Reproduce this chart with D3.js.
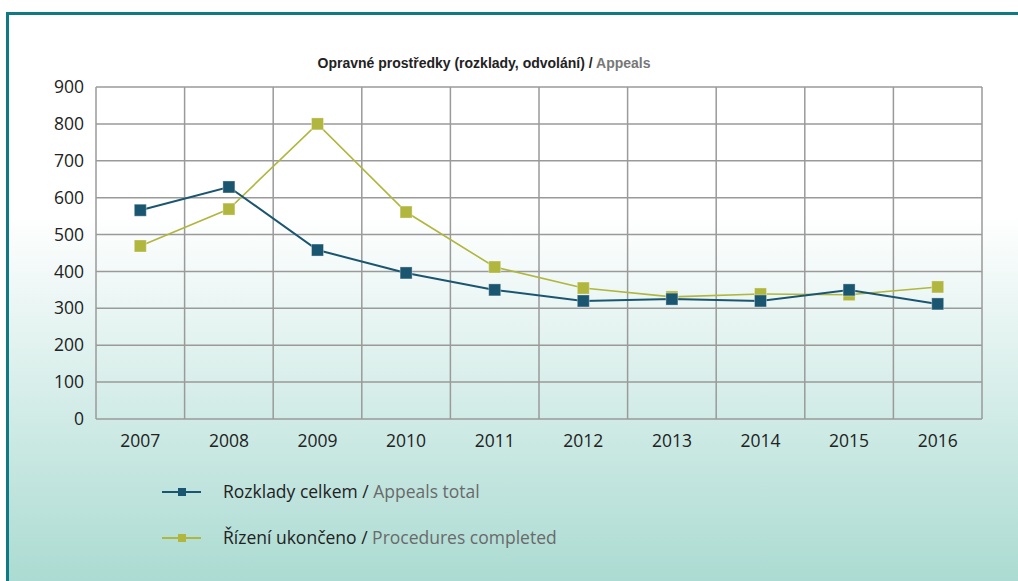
<!DOCTYPE html>
<html><head><meta charset="utf-8">
<script src="https://cdn.jsdelivr.net/npm/d3@7"></script>
<style>
html,body{margin:0;padding:0;background:#fff;}
svg{display:block;}
</style></head>
<body>
<svg id="chart" width="1018" height="581"></svg>
<script>
const years = ["2007","2008","2009","2010","2011","2012","2013","2014","2015","2016"];
const appealsTotal = [566, 629, 458, 396, 350, 320, 325, 320, 350, 312];
const proceduresCompleted = [469, 569, 800, 561, 412, 355, 331, 339, 337, 358];
const yTicks = [0,100,200,300,400,500,600,700,800,900];
const seriesNames = [
  ["Rozklady celkem / ", "Appeals total"],
  ["Řízení ukončeno / ", "Procedures completed"]
];
const seriesColors = ["#1b5670", "#b1b63e"];

(function(){
const svg = d3.select("#chart");
const W = 1018, H = 581;

const defs = svg.append("defs");
const grad = defs.append("linearGradient").attr("id","bg").attr("x1",0).attr("y1",0).attr("x2",0).attr("y2",1);
grad.append("stop").attr("offset","0%").attr("stop-color","#ffffff");
grad.append("stop").attr("offset","37%").attr("stop-color","#ffffff");
grad.append("stop").attr("offset","100%").attr("stop-color","#abdbd2");
svg.append("rect").attr("x",0).attr("y",0).attr("width",W).attr("height",H).attr("fill","url(#bg)");
svg.append("rect").attr("x",0).attr("y",0).attr("width",W).attr("height",12).attr("fill","#fff");
svg.append("rect").attr("x",0).attr("y",0).attr("width",6).attr("height",H).attr("fill","#fff");
svg.append("rect").attr("x",6).attr("y",12).attr("width",W).attr("height",3).attr("fill","#0f7984");
svg.append("rect").attr("x",6).attr("y",12).attr("width",3).attr("height",H).attr("fill","#0f7984");

const pLeft = 96, pRight = 982, pTop = 87, pBottom = 419;
const x = d3.scaleBand().domain(years).range([pLeft,pRight]);
const y = d3.scaleLinear().domain([0,900]).range([pBottom,pTop]);

const title = svg.append("text").attr("x",484).attr("y",68).attr("text-anchor","middle")
  .style("font-family","'Liberation Sans Narrow','Arial Narrow',sans-serif")
  .style("font-weight","bold").style("font-size","14px");
title.append("tspan").attr("fill","#222").text("Opravné prostředky (rozklady, odvolání) / ");
title.append("tspan").attr("fill","#777").text("Appeals");

const grid = svg.append("g");
grid.selectAll("line.h").data(yTicks).enter().append("line")
  .attr("x1",pLeft).attr("x2",pRight).attr("y1",d=>y(d)).attr("y2",d=>y(d))
  .attr("stroke","#9a9a9a").attr("stroke-width",1.5);
const edges = years.map(d=>x(d)).concat([pRight]);
grid.selectAll("line.v").data(edges).enter().append("line")
  .attr("x1",d=>d).attr("x2",d=>d).attr("y1",pTop).attr("y2",pBottom)
  .attr("stroke","#9a9a9a").attr("stroke-width",1.5);

const fontAxis = "'Open Sans','Noto Sans',sans-serif";
const yAxis = d3.axisLeft(y).tickValues(yTicks).tickSize(0).tickPadding(12);
const gy = svg.append("g").attr("transform",`translate(${pLeft},0)`).call(yAxis);
gy.select(".domain").remove();
gy.selectAll("text").style("font-family",fontAxis).style("font-size","17.5px").attr("fill","#222");

const xAxis = d3.axisBottom(x).tickSize(0).tickPadding(16);
const gx = svg.append("g").attr("transform",`translate(0,${pBottom})`).call(xAxis);
gx.select(".domain").remove();
gx.selectAll("text").style("font-family",fontAxis).style("font-size","17.5px").attr("fill","#222");

const cx = d => x(d) + x.bandwidth()/2;
const line = d3.line().x(d=>cx(d.year)).y(d=>y(d.v));
const allSeries = [appealsTotal, proceduresCompleted];
[1,0].forEach(i => {
  const data = years.map((yr,j)=>({year:yr, v:allSeries[i][j]}));
  svg.append("path").datum(data).attr("d",line).attr("fill","none")
    .attr("stroke",seriesColors[i]).attr("stroke-width", i===0 ? 2 : 1.6);
  svg.selectAll(null).data(data).enter().append("rect")
    .attr("x",d=>cx(d.year)-6).attr("y",d=>y(d.v)-6).attr("width",12).attr("height",12)
    .attr("fill",seriesColors[i]).attr("stroke","rgba(255,255,255,0.35)").attr("stroke-width",1);
});

const legY = [492, 538];
seriesNames.forEach((nm,i)=>{
  const g = svg.append("g");
  g.append("line").attr("x1",162).attr("x2",201).attr("y1",legY[i]).attr("y2",legY[i])
    .attr("stroke",seriesColors[i]).attr("stroke-width",2);
  g.append("rect").attr("x",178).attr("y",legY[i]-4).attr("width",8).attr("height",8).attr("fill",seriesColors[i]);
  const t = g.append("text").attr("x",223).attr("y",legY[i]+6)
    .style("font-family",fontAxis).style("font-size","17.5px");
  t.append("tspan").attr("fill","#222").text(nm[0]);
  t.append("tspan").attr("fill","#6a6a6a").text(nm[1]);
});
})();
</script>
</body></html>
